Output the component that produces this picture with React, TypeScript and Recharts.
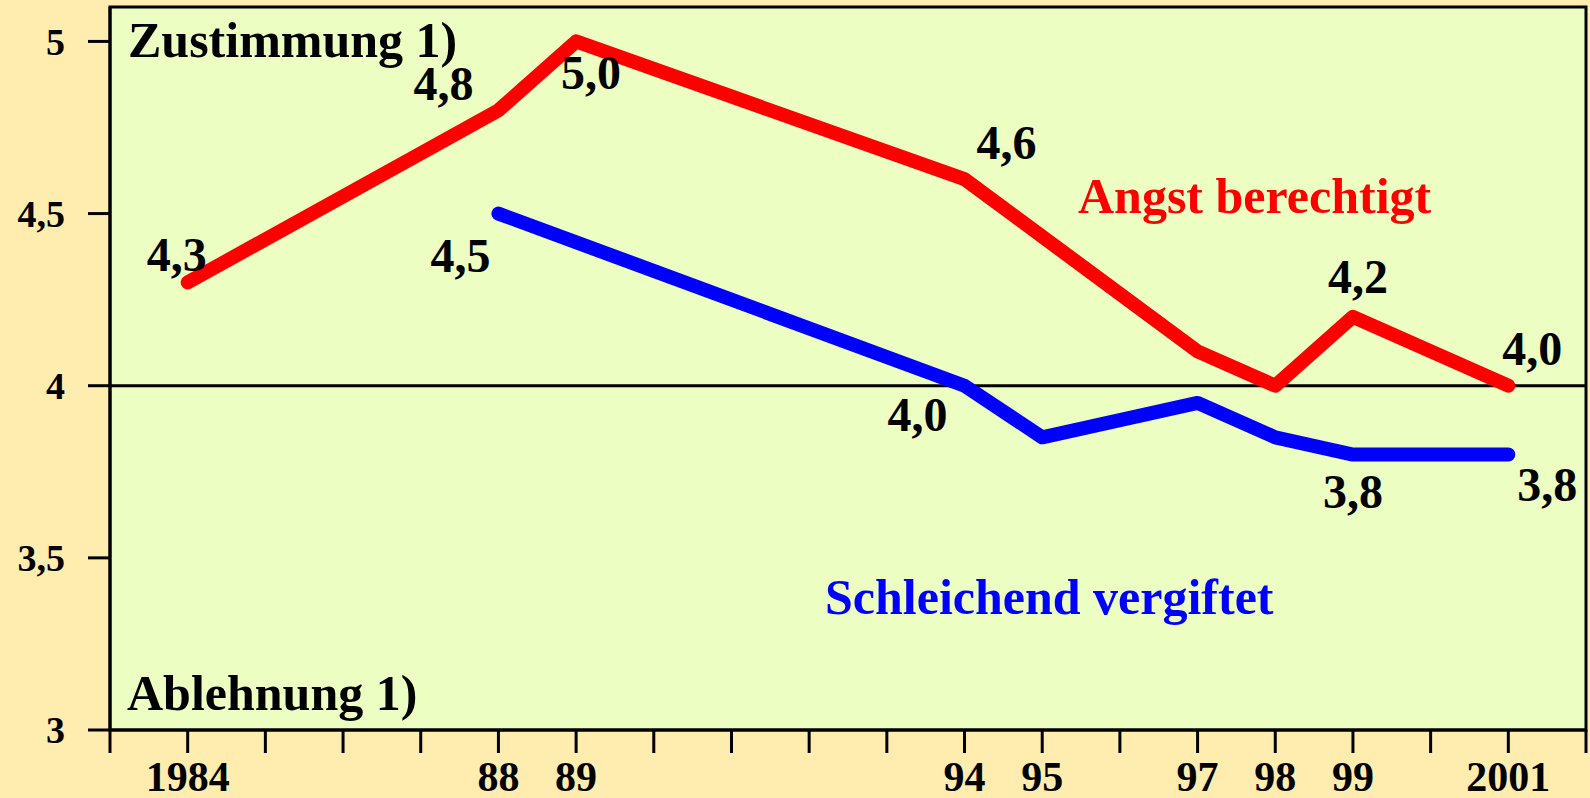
import React from "react";
import {
  LabelList,
  Line,
  LineChart,
  ReferenceArea,
  ReferenceLine,
  XAxis,
  YAxis,
} from "recharts";

// Jahre und Werte (Mittelwerte, Skala 1-5)
const years = [1984, 1988, 1989, 1994, 1995, 1997, 1998, 1999, 2001];
const angstBerechtigt = [4.3, 4.8, 5.0, 4.6, null, 4.1, 4.0, 4.2, 4.0];
const schleichendVergiftet = [null, 4.5, null, 4.0, 3.85, 3.95, 3.85, 3.8, 3.8];

// beschriftete Werte (leer = keine Beschriftung)
const angstLabels = ["4,3", "4,8", "5,0", "4,6", "", "", "", "4,2", "4,0"];
const schleichendLabels = ["", "4,5", "", "4,0", "", "", "", "3,8", "3,8"];

// Achsen
const xTickYears = [
  1983, 1984, 1985, 1986, 1987, 1988, 1989, 1990, 1991, 1992, 1993, 1994,
  1995, 1996, 1997, 1998, 1999, 2000, 2001, 2002,
];
const xTickLabels = ["1984", "88", "89", "94", "95", "97", "98", "99", "2001"];
const yTicks = [3, 3.5, 4, 4.5, 5];

const data = years.map((year, i) => ({
  year,
  angst: angstBerechtigt[i],
  schleichend: schleichendVergiftet[i],
}));

const BG_OUTER = "#FFEDB0";
const BG_PLOT = "#ECFEC2";
const RED = "#FF0000";
const BLUE = "#0000FF";
const FONT = "'Liberation Serif', 'Times New Roman', serif";

// Versatz der Wertbeschriftungen relativ zum Punkt
const angstOffsets: Record<number, [number, number]> = {
  0: [-11, -28],
  1: [-55, -27],
  2: [15, 31],
  3: [42, -37],
  7: [5, -40],
  8: [24, -37],
};
const schleichendOffsets: Record<number, [number, number]> = {
  1: [-38, 42],
  3: [-47, 29],
  7: [0, 37],
  8: [39, 30],
};

const makeLabel =
  (texts: string[], offsets: Record<number, [number, number]>) =>
  (props: any) => {
    const { x, y, index } = props;
    const text = texts[index];
    if (!text || x == null || y == null) return null;
    const [dx, dy] = offsets[index] || [0, 0];
    return (
      <text
        x={x + dx}
        y={y + dy}
        textAnchor="middle"
        dominantBaseline="central"
        fontFamily={FONT}
        fontWeight="bold"
        fontSize={48}
        fill="#000"
      >
        {text}
      </text>
    );
  };

const formatYear = (v: number) => {
  const i = years.indexOf(v);
  return i >= 0 ? xTickLabels[i] : "";
};

const formatY = (v: number) => String(v).replace(".", ",");

const textStyle: React.CSSProperties = {
  position: "absolute",
  fontFamily: FONT,
  fontWeight: "bold",
  whiteSpace: "nowrap",
  lineHeight: 1,
  pointerEvents: "none",
};

export default function App() {
  return (
    <div
      style={{
        position: "absolute",
        left: 0,
        top: 0,
        width: 1590,
        height: 798,
        background: BG_OUTER,
      }}
    >
      <LineChart
        width={1590}
        height={798}
        data={data}
        margin={{ top: 7, right: 4, bottom: 0, left: 0 }}
      >
        <XAxis
          dataKey="year"
          type="number"
          domain={[1983, 2002]}
          ticks={xTickYears}
          interval={0}
          tickFormatter={formatYear}
          height={68}
          tickSize={23}
          tickMargin={8}
          axisLine={{ stroke: "#000", strokeWidth: 3 }}
          tickLine={{ stroke: "#000", strokeWidth: 3 }}
          tick={{ fill: "#000", fontSize: 42, fontWeight: "bold", fontFamily: FONT }}
        />
        <YAxis
          type="number"
          domain={[3, 5.1]}
          ticks={yTicks}
          interval={0}
          tickFormatter={formatY}
          width={110}
          tickSize={22}
          tickMargin={23}
          axisLine={{ stroke: "#000", strokeWidth: 3 }}
          tickLine={{ stroke: "#000", strokeWidth: 3 }}
          tick={{ fill: "#000", fontSize: 38, fontWeight: "bold", fontFamily: FONT }}
        />
        <ReferenceArea
          x1={1983}
          x2={2002}
          y1={3}
          y2={5.1}
          fill={BG_PLOT}
          fillOpacity={1}
          stroke="#000"
          strokeWidth={3}
          ifOverflow="extendDomain"
        />
        <ReferenceLine y={4} stroke="#000" strokeWidth={3} />
        <Line
          dataKey="schleichend"
          stroke={BLUE}
          strokeWidth={14}
          strokeLinecap="round"
          strokeLinejoin="round"
          dot={false}
          activeDot={false}
          connectNulls
          isAnimationActive={false}
        >
          <LabelList content={makeLabel(schleichendLabels, schleichendOffsets)} />
        </Line>
        <Line
          dataKey="angst"
          stroke={RED}
          strokeWidth={14}
          strokeLinecap="round"
          strokeLinejoin="round"
          dot={false}
          activeDot={false}
          connectNulls
          isAnimationActive={false}
        >
          <LabelList content={makeLabel(angstLabels, angstOffsets)} />
        </Line>
      </LineChart>

      <div style={{ ...textStyle, left: 128, top: 15, fontSize: 50, color: "#000" }}>
        Zustimmung 1)
      </div>
      <div style={{ ...textStyle, left: 127, top: 668, fontSize: 50, color: "#000" }}>
        Ablehnung 1)
      </div>
      <div style={{ ...textStyle, left: 1078, top: 171, fontSize: 50, color: RED }}>
        Angst berechtigt
      </div>
      <div style={{ ...textStyle, left: 825, top: 572, fontSize: 50, color: BLUE }}>
        Schleichend vergiftet
      </div>
    </div>
  );
}
